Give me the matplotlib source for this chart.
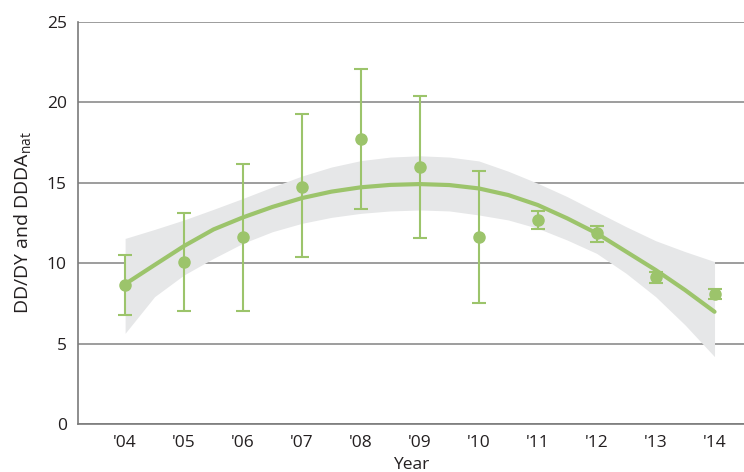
import matplotlib.pyplot as plt
import numpy as np

# values
years = ["'04", "'05", "'06", "'07", "'08", "'09", "'10", "'11", "'12", "'13", "'14"]
points = [8.64, 10.05, 11.6, 14.75, 17.75, 16.0, 11.65, 12.66, 11.86, 9.14, 8.08]
err_hi = [10.5, 13.1, 16.2, 19.3, 22.08, 20.4, 15.75, 13.27, 12.33, 9.47, 8.41]
err_lo = [6.78, 7.05, 7.05, 10.4, 13.37, 11.59, 7.5, 12.1, 11.34, 8.79, 7.75]

# fitted curve and its band, read every half year from '04 to '14
fit = [8.7, 9.89, 11.07, 12.1, 12.85, 13.5, 14.05, 14.45, 14.72, 14.87, 14.92,
       14.86, 14.65, 14.24, 13.62, 12.79, 11.86, 10.72, 9.58, 8.33, 6.98]
band_hi = [11.54, 12.1, 12.69, 13.35, 14.03, 14.74, 15.42, 15.98, 16.38, 16.6, 16.68,
           16.6, 16.36, 15.72, 14.97, 14.14, 13.2, 12.27, 11.4, 10.72, 10.1]
band_lo = [5.64, 7.92, 9.27, 10.3, 11.24, 11.96, 12.48, 12.85, 13.1, 13.25, 13.31,
           13.25, 13.0, 12.69, 12.17, 11.44, 10.61, 9.37, 7.92, 6.16, 4.19]

green = '#9cc46b'
plt.rcParams['font.family'] = ['Open Sans', 'DejaVu Sans']

fig = plt.figure(figsize=(7.44, 4.72), dpi=100)
ax = fig.add_axes([0.1048, 0.1017, 0.8952, 0.8517])

x = np.arange(len(years))
xf = np.arange(len(fit)) / 2
ax.fill_between(xf, band_lo, band_hi, color='#e6e7e8', lw=0, zorder=1)
ax.plot(xf, fit, color=green, lw=3, solid_capstyle='round', solid_joinstyle='round', zorder=3)

pts = np.array(points)
yerr = [pts - np.array(err_lo), np.array(err_hi) - pts]
ax.errorbar(x, pts, yerr=yerr, fmt='o', color=green, ms=8, elinewidth=1.5,
            capsize=5, capthick=1.5, zorder=4)

ax.set_ylim(0, 25)
ax.set_xlim(-0.8, 10.5)
ax.set_yticks([0, 5, 10, 15, 20, 25])
ax.set_xticks(x)
ax.set_xticklabels(years)
ax.yaxis.grid(True, color='#8c8c8c', lw=1.2)
ax.set_axisbelow(True)
ax.tick_params(length=0, labelsize=12.5, colors='#231f20', pad=8)
for s in ['top', 'right']:
    ax.spines[s].set_visible(False)
for s in ['left', 'bottom']:
    ax.spines[s].set_color('#7a7a7a')
    ax.spines[s].set_linewidth(1.2)

ax.set_xlabel('Year', fontsize=12.5, color='#231f20', labelpad=4)
ax.set_ylabel('DD/DY and DDDA$_{\\mathregular{nat}}$', fontsize=14, color='#231f20', labelpad=9)

fig.savefig('out.png', dpi=100)
